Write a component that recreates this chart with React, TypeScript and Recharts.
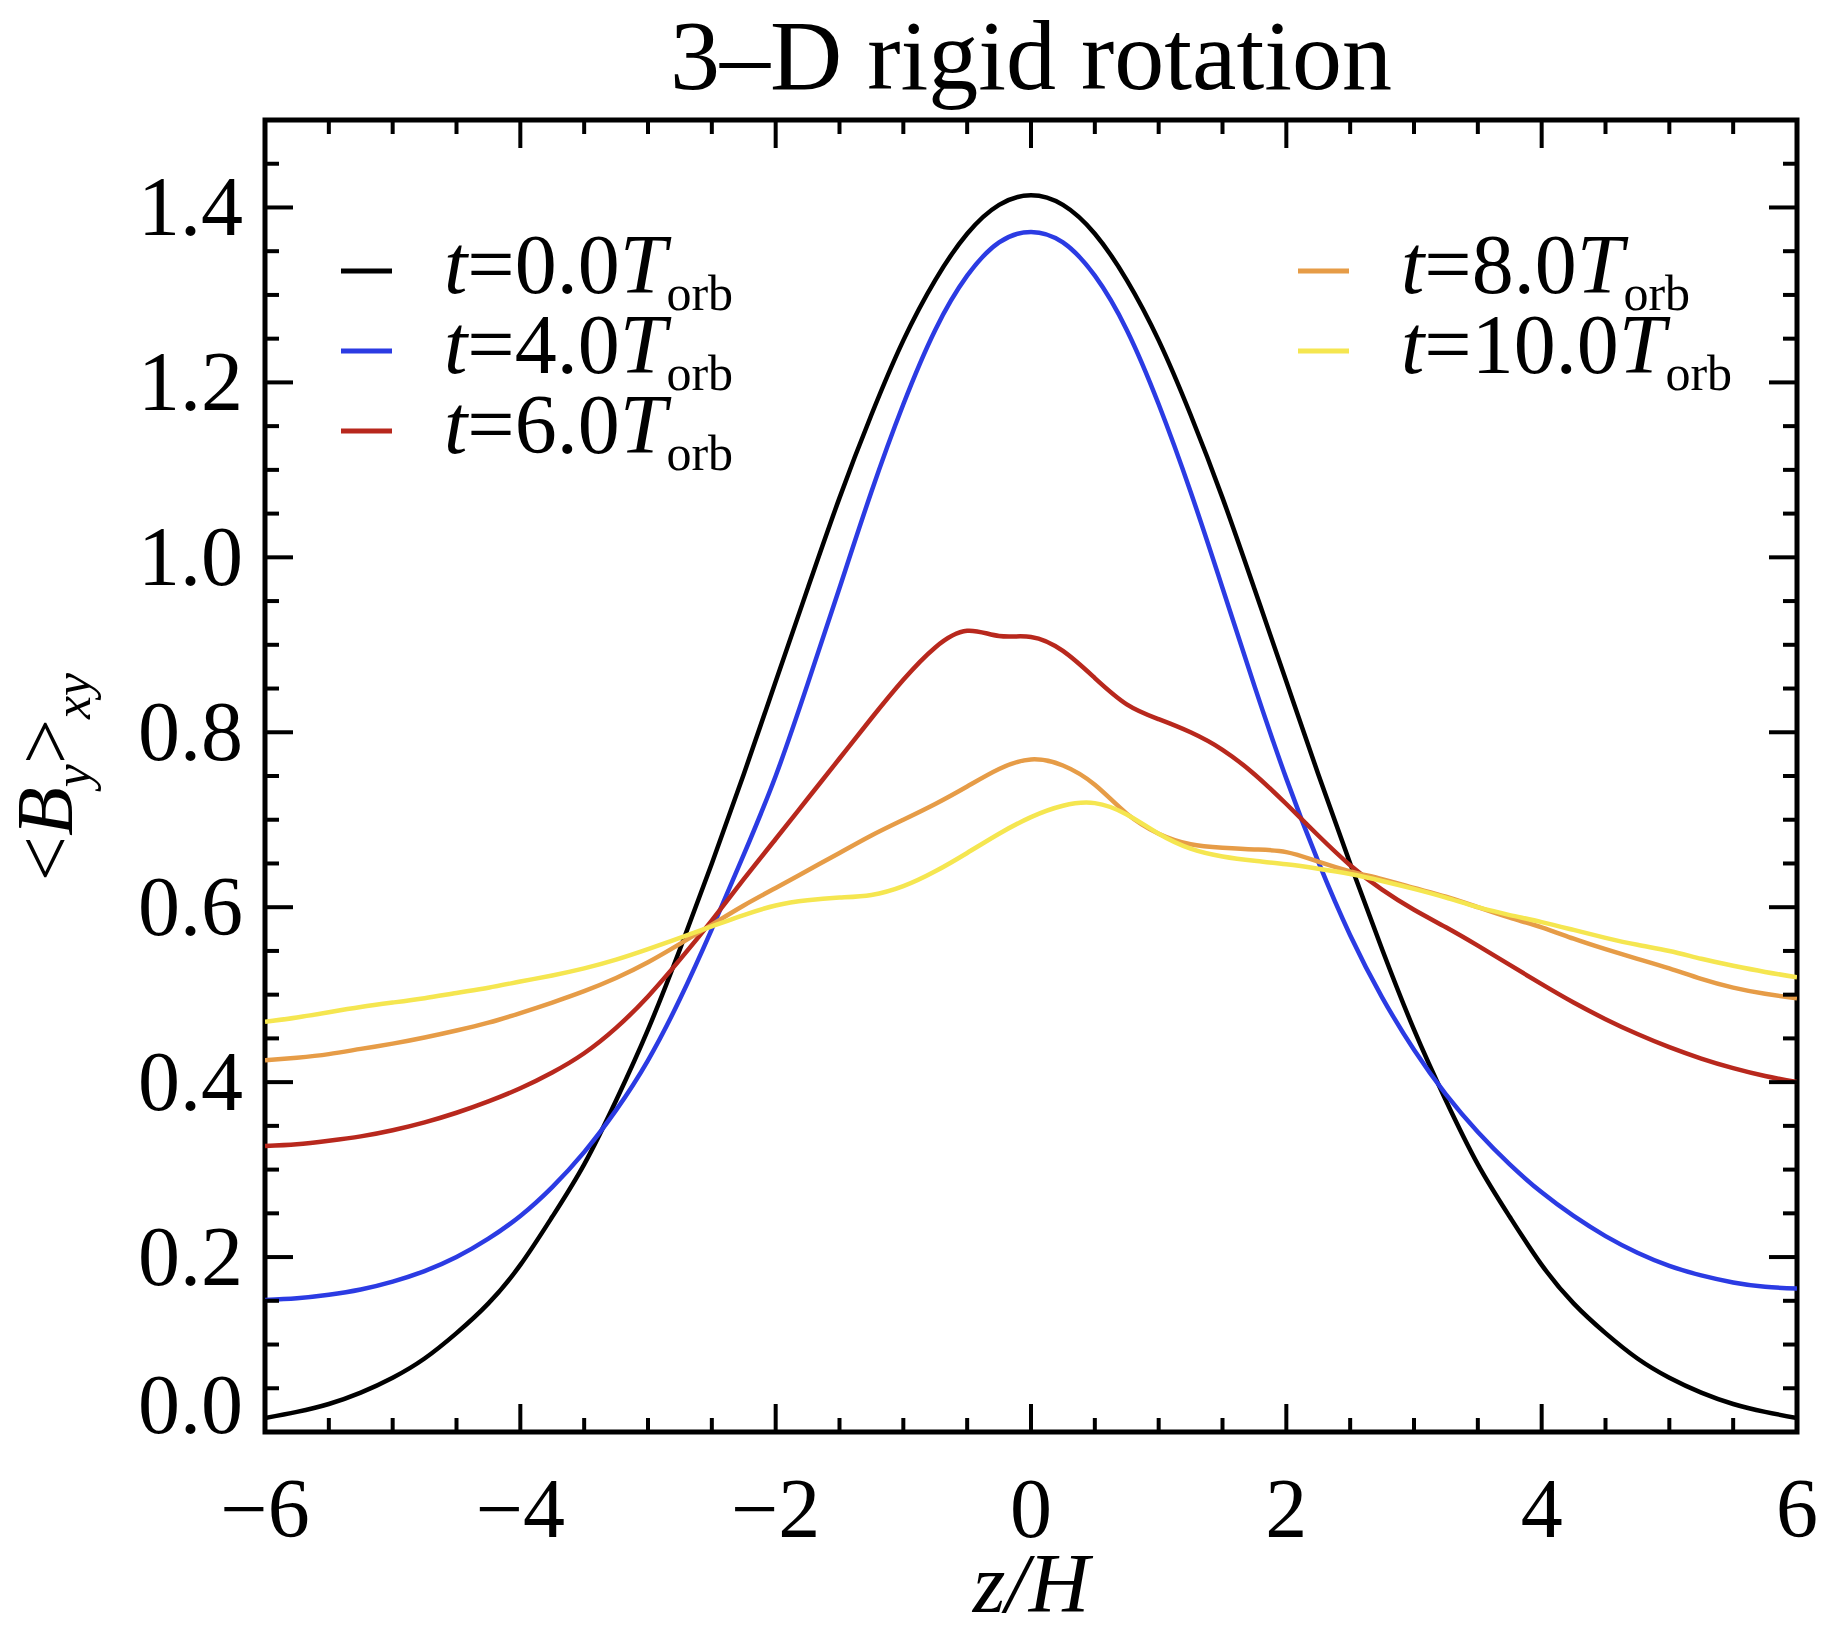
import React from 'react';
import { LineChart, Line, XAxis, YAxis, ReferenceArea } from 'recharts';

// z/H sample positions (0.25 spacing)
const zValues = [
  -6, -5.75, -5.5, -5.25, -5, -4.75, -4.5, -4.25, -4, -3.75, -3.5, -3.25, -3, -2.75, -2.5, -2.25,
  -2, -1.75, -1.5, -1.25, -1, -0.75, -0.5, -0.25, 0, 0.25, 0.5, 0.75, 1, 1.25, 1.5, 1.75,
  2, 2.25, 2.5, 2.75, 3, 3.25, 3.5, 3.75, 4, 4.25, 4.5, 4.75, 5, 5.25, 5.5, 5.75, 6,
];

// <B_y>_xy, one array per snapshot
const byT0 = [
  0.016, 0.023, 0.032, 0.045, 0.062, 0.084, 0.113, 0.147, 0.191, 0.246, 0.306, 0.379, 0.46, 0.552, 0.65, 0.752,
  0.858, 0.964, 1.068, 1.163, 1.248, 1.317, 1.37, 1.403, 1.414, 1.403, 1.37, 1.317, 1.248, 1.163, 1.068, 0.964,
  0.858, 0.752, 0.65, 0.552, 0.46, 0.379, 0.306, 0.246, 0.191, 0.147, 0.113, 0.084, 0.062, 0.045, 0.032, 0.023, 0.016,
];
const byT4 = [
  0.151, 0.153, 0.157, 0.163, 0.172, 0.184, 0.2, 0.221, 0.247, 0.28, 0.32, 0.368, 0.425, 0.495, 0.575, 0.66,
  0.75, 0.855, 0.965, 1.075, 1.175, 1.26, 1.322, 1.36, 1.372, 1.36, 1.322, 1.26, 1.175, 1.075, 0.965, 0.853,
  0.747, 0.652, 0.568, 0.497, 0.437, 0.386, 0.343, 0.306, 0.274, 0.247, 0.224, 0.205, 0.19, 0.179, 0.171, 0.166, 0.164,
];
const byT6 = [
  0.327, 0.329, 0.333, 0.338, 0.345, 0.354, 0.365, 0.378, 0.393, 0.411, 0.433, 0.462, 0.498, 0.54, 0.585, 0.632,
  0.678, 0.724, 0.77, 0.816, 0.86, 0.897, 0.916, 0.91, 0.909, 0.893, 0.862, 0.832, 0.815, 0.8, 0.78, 0.752,
  0.718, 0.682, 0.648, 0.62, 0.597, 0.577, 0.556, 0.534, 0.512, 0.491, 0.472, 0.455, 0.44, 0.427, 0.416, 0.407, 0.4,
];
const byT8 = [
  0.425, 0.428, 0.432, 0.438, 0.444, 0.451, 0.459, 0.468, 0.479, 0.491, 0.504, 0.519, 0.537, 0.558, 0.58, 0.602,
  0.622, 0.642, 0.662, 0.682, 0.7, 0.718, 0.738, 0.758, 0.769, 0.762, 0.74, 0.707, 0.684, 0.672, 0.668, 0.666,
  0.663, 0.652, 0.641, 0.632, 0.622, 0.612, 0.6, 0.588, 0.577, 0.564, 0.552, 0.541, 0.53, 0.518, 0.508, 0.501, 0.496,
];
const byT10 = [
  0.469, 0.474, 0.48, 0.486, 0.491, 0.496, 0.502, 0.508, 0.515, 0.522, 0.53, 0.54, 0.552, 0.565, 0.578, 0.591,
  0.602, 0.608, 0.611, 0.614, 0.624, 0.641, 0.662, 0.684, 0.703, 0.716, 0.719, 0.706, 0.684, 0.667, 0.658, 0.653,
  0.649, 0.644, 0.638, 0.63, 0.621, 0.611, 0.6, 0.591, 0.583, 0.574, 0.565, 0.557, 0.55, 0.541, 0.533, 0.526, 0.52,
];

const seriesKeys = ['t0', 't4', 't6', 't8', 't10'];
const seriesLabels = ['0.0', '4.0', '6.0', '8.0', '10.0'];
const seriesColors = ['#000000', '#2b3be3', '#b8281d', '#e69c47', '#f5e650'];

const xTicks = [
  -6, -5.5, -5, -4.5, -4, -3.5, -3, -2.5, -2, -1.5, -1, -0.5, 0,
  0.5, 1, 1.5, 2, 2.5, 3, 3.5, 4, 4.5, 5, 5.5, 6,
];
const xLabelTicks = [-6, -4, -2, 0, 2, 4, 6];
const yTicks = [
  0, 0.05, 0.1, 0.15, 0.2, 0.25, 0.3, 0.35, 0.4, 0.45, 0.5, 0.55, 0.6, 0.65, 0.7, 0.75,
  0.8, 0.85, 0.9, 0.95, 1.0, 1.05, 1.1, 1.15, 1.2, 1.25, 1.3, 1.35, 1.4, 1.45, 1.5,
];
const yLabelTicks = [0, 0.2, 0.4, 0.6, 0.8, 1.0, 1.2, 1.4];

const chartData = zValues.map((z, i) => ({
  z,
  t0: byT0[i],
  t4: byT4[i],
  t6: byT6[i],
  t8: byT8[i],
  t10: byT10[i],
}));

const W = 1824;
const H = 1631;
const PLOT_LEFT = 265;
const PLOT_RIGHT = 1797;
const PLOT_TOP = 120;
const PLOT_BOTTOM = 1432;
const FONT = '"Liberation Serif", "Times New Roman", serif';

const XTick = (props: any) => {
  const { x, payload } = props;
  const major = xLabelTicks.includes(payload.value);
  const len = major ? 28 : 14;
  const label = payload.value < 0 ? `\u2212${Math.abs(payload.value)}` : `${payload.value}`;
  return (
    <g>
      <line x1={x} x2={x} y1={PLOT_BOTTOM} y2={PLOT_BOTTOM - len} stroke="#000" strokeWidth={4} />
      <line x1={x} x2={x} y1={PLOT_TOP} y2={PLOT_TOP + len} stroke="#000" strokeWidth={4} />
      {major && (
        <text x={x} y={1537} textAnchor="middle" fontSize={84} fontFamily={FONT} fill="#000">
          {label}
        </text>
      )}
    </g>
  );
};

const YTick = (props: any) => {
  const { y, payload } = props;
  const major = yLabelTicks.some((t) => Math.abs(t - payload.value) < 1e-6);
  const len = major ? 28 : 14;
  // the 0.0 label sits just above the bottom axis, as in the original
  const baseline = payload.value === 0 ? y + 1 : y + 28;
  return (
    <g>
      <line x1={PLOT_LEFT} x2={PLOT_LEFT + len} y1={y} y2={y} stroke="#000" strokeWidth={4} />
      <line x1={PLOT_RIGHT} x2={PLOT_RIGHT - len} y1={y} y2={y} stroke="#000" strokeWidth={4} />
      {major && (
        <text x={243} y={baseline} textAnchor="end" fontSize={84} fontFamily={FONT} fill="#000">
          {payload.value.toFixed(1)}
        </text>
      )}
    </g>
  );
};

const LegendEntry = ({ idx, x, y }: { idx: number; x: number; y: number }) => (
  <g>
    <line x1={x} x2={x + 51} y1={y - 22} y2={y - 22} stroke={seriesColors[idx]} strokeWidth={5} />
    <text x={x + 103} y={y} fontSize={84} fontFamily={FONT} fill="#000">
      <tspan fontStyle="italic">t</tspan>
      <tspan>={seriesLabels[idx]}</tspan>
      <tspan fontStyle="italic">T</tspan>
      <tspan dy={17} fontSize={50}>orb</tspan>
    </text>
  </g>
);

export default function App() {
  return (
    <div style={{ position: 'relative', width: W, height: H, background: '#fff' }}>
      <style>{'body{margin:0}'}</style>
      <LineChart
        width={W}
        height={H}
        data={chartData}
        margin={{ top: PLOT_TOP, right: W - PLOT_RIGHT, bottom: 0, left: 0 }}
      >
        <XAxis
          dataKey="z"
          type="number"
          domain={[-6, 6]}
          ticks={xTicks}
          interval={0}
          tick={XTick}
          tickLine={false}
          axisLine={false}
          tickSize={0}
          tickMargin={0}
          height={H - PLOT_BOTTOM}
          allowDataOverflow
        />
        <YAxis
          type="number"
          domain={[0, 1.5]}
          ticks={yTicks}
          interval={0}
          tick={YTick}
          tickLine={false}
          axisLine={false}
          tickSize={0}
          tickMargin={0}
          width={PLOT_LEFT}
          allowDataOverflow
        />
        {seriesKeys.map((k, i) => (
          <Line
            key={k}
            dataKey={k}
            type="natural"
            stroke={seriesColors[i]}
            strokeWidth={4.5}
            dot={false}
            activeDot={false}
            isAnimationActive={false}
          />
        ))}
        <ReferenceArea
          x1={-6}
          x2={6}
          y1={0}
          y2={1.5}
          fill="none"
          stroke="#000"
          strokeWidth={5}
          ifOverflow="visible"
        />
      </LineChart>
      <svg
        width={W}
        height={H}
        style={{ position: 'absolute', left: 0, top: 0, pointerEvents: 'none' }}
      >
        <text x={1031} y={89} textAnchor="middle" fontSize={100} fontFamily={FONT} fill="#000">
          3–D rigid rotation
        </text>
        <text x={1031} y={1612} textAnchor="middle" fontSize={84} fontFamily={FONT} fontStyle="italic" fill="#000">
          z/H
        </text>
        <text
          transform="translate(72,777) rotate(-90)"
          textAnchor="middle"
          fontSize={80}
          fontFamily={FONT}
          fill="#000"
        >
          <tspan>&lt;</tspan>
          <tspan fontStyle="italic">B</tspan>
          <tspan dy={18} fontSize={52} fontStyle="italic">y</tspan>
          <tspan dy={-18}>&gt;</tspan>
          <tspan dy={18} fontSize={52} fontStyle="italic">xy</tspan>
        </text>
        {[0, 1, 2].map((i) => (
          <LegendEntry key={i} idx={i} x={341} y={293 + i * 80} />
        ))}
        {[3, 4].map((i) => (
          <LegendEntry key={i} idx={i} x={1298} y={293 + (i - 3) * 80} />
        ))}
      </svg>
    </div>
  );
}
